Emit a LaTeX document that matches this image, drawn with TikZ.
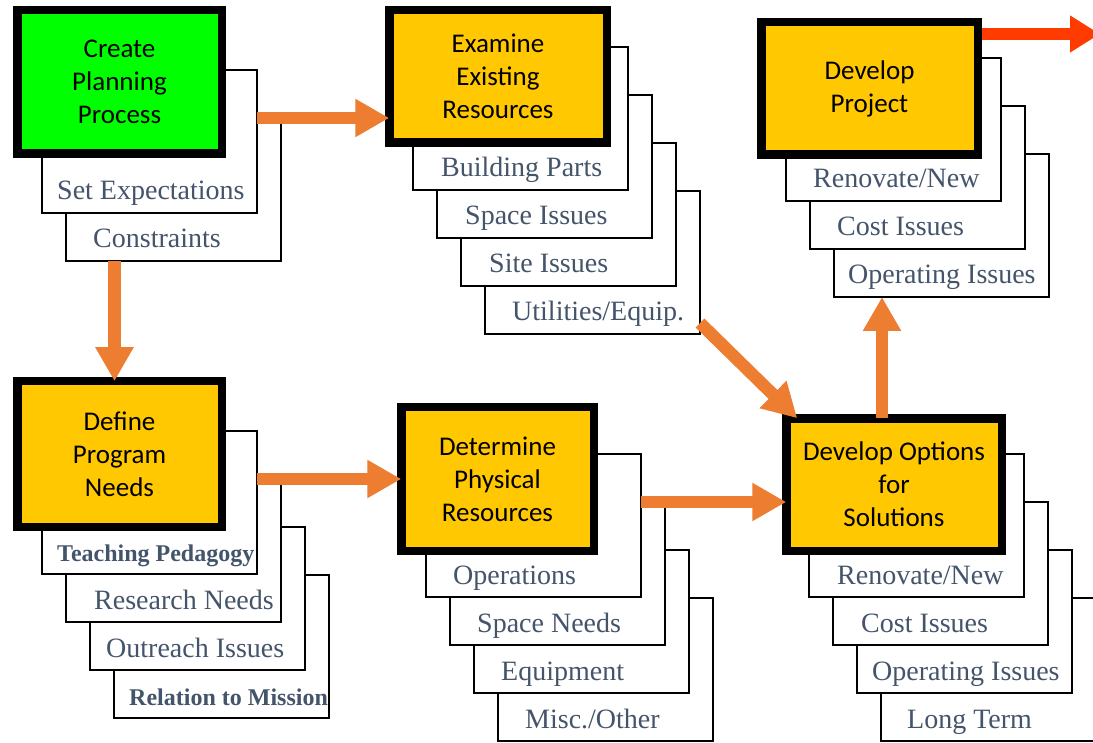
\documentclass[tikz,border=0pt]{standalone}
\usepackage{fontspec}
\setmainfont{Liberation Serif}
\newfontfamily\calibri{Carlito}
\usetikzlibrary{arrows.meta,positioning,calc}
\definecolor{stepgreen}{HTML}{00FF00}
\definecolor{stepgold}{HTML}{FFC800}
\definecolor{flow}{HTML}{ED7D31}
\definecolor{outflow}{HTML}{FF3B00}
\definecolor{subgray}{HTML}{44546A}
\newcommand{\boldsub}[1]{{\fontsize{24}{28}\selectfont\bfseries #1}}
\tikzset{mainbox/.style={draw=black, line width=8.5pt, fill=stepgold, align=center, inner sep=0pt, outer sep=0pt, font=\calibri\fontsize{27}{33}\selectfont}}
\tikzset{subbox/.style={draw=black, line width=1.2pt, fill=white, minimum width=215pt, minimum height=143pt, anchor=north west, outer sep=0pt}}
\tikzset{sublabel/.style={anchor=base west, text=subgray, inner sep=0pt, font=\fontsize{28}{31}\selectfont}}
\tikzset{flowarrow/.style={draw=flow, line width=12.5pt, -{Triangle[width=36pt,length=34pt]}}}
\tikzset{outarrow/.style={draw=outflow, line width=12pt, -{Triangle[width=35pt,length=30pt]}}}

\begin{document}
\begin{tikzpicture}[x=1pt, y=-1pt]
\useasboundingbox (0,0) rectangle (1093,743);

% create planning process
\foreach \n/\txt/\dx in {2/Constraints/27, 1/Set Expectations/15}
{
  \node[subbox] (cpp\n) at ({42+24*(\n-1)}, {70+48*(\n-1)}) {};
  \node[sublabel] at ([xshift=\dx pt, yshift=13pt]cpp\n.south west) {\txt};
}
\node[mainbox, fill=stepgreen, minimum width=204.5pt, minimum height=143.5pt] (cpp) at (119.5,82) {Create\\Planning\\Process};

% define program needs
\foreach \n/\txt/\dx in {4/\boldsub{Relation to Mission}/15, 3/Outreach Issues/16, 2/Research Needs/28, 1/\boldsub{Teaching Pedagogy}/15}
{
  \node[subbox] (dpn\n) at ({42+24*(\n-1)}, {431+48*(\n-1)}) {};
  \node[sublabel] at ([xshift=\dx pt, yshift=13pt]dpn\n.south west) {\txt};
}
\node[mainbox, minimum width=204.5pt, minimum height=145.5pt] (dpn) at (119.5,454) {Define\\Program\\Needs};

% examine existing resources
\foreach \n/\txt/\dx in {4/{Utilities/Equip.}/27, 3/Site Issues/28, 2/Space Issues/28, 1/Building Parts/28}
{
  \node[subbox] (eer\n) at ({413+24*(\n-1)}, {47+48*(\n-1)}) {};
  \node[sublabel] at ([xshift=\dx pt, yshift=13pt]eer\n.south west) {\txt};
}
\node[mainbox, minimum width=217.5pt, minimum height=132.5pt] (eer) at (498,76.5) {Examine\\Existing\\Resources};

% develop project
\foreach \n/\txt/\dx in {3/Operating Issues/14, 2/Cost Issues/27, 1/{Renovate/New}/27}
{
  \node[subbox] (dpj\n) at ({786+24*(\n-1)}, {58+48*(\n-1)}) {};
  \node[sublabel] at ([xshift=\dx pt, yshift=13pt]dpj\n.south west) {\txt};
}
\node[mainbox, minimum width=216.5pt, minimum height=132.5pt] (dpj) at (869.5,88.5) {Develop\\Project};

% determine physical resources
\foreach \n/\txt/\dx in {4/{Misc./Other}/27, 3/Equipment/27, 2/Space Needs/27, 1/Operations/27}
{
  \node[subbox] (dpr\n) at ({426+24*(\n-1)}, {454+48*(\n-1)}) {};
  \node[sublabel] at ([xshift=\dx pt, yshift=13pt]dpr\n.south west) {\txt};
}
\node[mainbox, minimum width=192.5pt, minimum height=143.5pt] (dpr) at (497.5,479) {Determine\\Physical\\Resources};

% develop options for solutions
\foreach \n/\txt/\dx in {4/Long Term/26, 3/Operating Issues/15, 2/Cost Issues/28, 1/{Renovate/New}/28}
{
  \node[subbox] (dos\n) at ({809+24*(\n-1)}, {454+48*(\n-1)}) {};
  \node[sublabel] at ([xshift=\dx pt, yshift=13pt]dos\n.south west) {\txt};
}
\node[mainbox, minimum width=215.5pt, minimum height=132.5pt] (dos) at (894,484.5) {Develop Options\\for\\Solutions};

% flow
\draw[flowarrow] (cpp1.east |- cpp2.north) -- (eer.west |- cpp2.north);
\draw[flowarrow] ([xshift=-5pt]dpn.north |- cpp2.south) -- ([xshift=-5pt]dpn.north);
\draw[flowarrow] (dpn1.east |- dpn2.north) -- (dpr.west |- dpn2.north);
\draw[flowarrow] (dpr1.east |- dpr2.north) -- (dos.west |- dpr2.north);
\draw[flowarrow] ([yshift=11pt]eer4.south east) -- ([xshift=11pt]dos.north west);
\draw[flowarrow] ([xshift=-12pt]dos.north) -- ([xshift=-12pt]dos.north |- dpj3.south);
\coordinate (exit) at (1100,34);
\draw[outarrow] ([xshift=4pt]dpj.east |- exit) -- (exit);
\end{tikzpicture}
\end{document}
